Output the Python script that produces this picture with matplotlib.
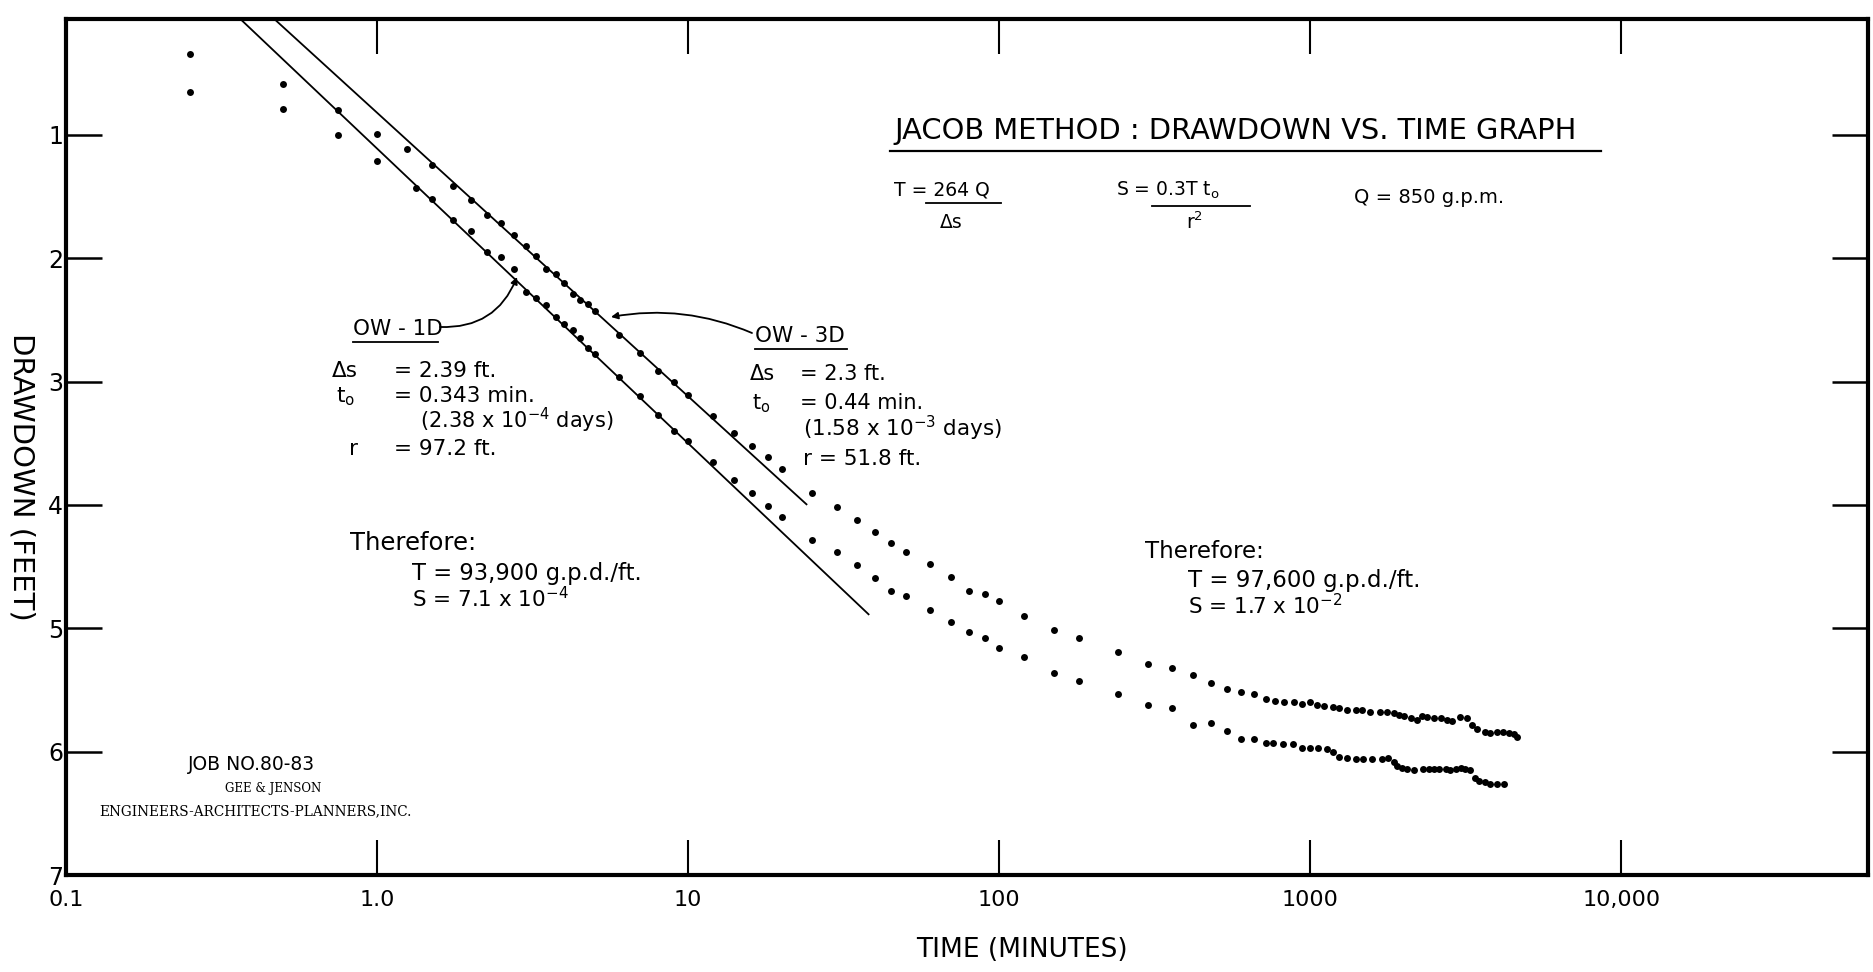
import numpy as np
import matplotlib
matplotlib.use("Agg")
import matplotlib.pyplot as plt
from matplotlib.lines import Line2D
from matplotlib.ticker import NullLocator

plt.rcParams['font.family'] = ['DejaVu Sans']
plt.rcParams['mathtext.fontset'] = 'dejavusans'

# ---------------- data ----------------
ow3d_time = [0.25, 0.5, 0.75, 1.0, 1.25, 1.5, 1.75, 2.0, 2.25, 2.5, 2.75, 3.0, 3.25, 3.5, 3.75,
             4.0, 4.25, 4.5, 4.75, 5.0, 6, 7, 8, 9, 10, 12, 14, 16, 18, 20, 25, 30, 35, 40, 45, 50,
             60, 70, 80, 90, 100, 120, 150, 180, 240, 300, 360, 420, 480, 540, 600, 660, 720,
             770, 825, 885, 940, 995, 1050, 1110, 1180, 1240, 1310, 1400, 1470, 1560,
             1680, 1760, 1850, 1920, 2000, 2100, 2200, 2290, 2370, 2490, 2620, 2750, 2850,
             3020, 3190, 3310, 3440, 3650, 3790, 3990, 4170, 4340, 4510, 4620]
ow3d_drawdown = [0.34, 0.59, 0.80, 0.99, 1.11, 1.24, 1.41, 1.53, 1.65, 1.71, 1.81, 1.90, 1.98, 2.09, 2.13,
                 2.20, 2.29, 2.34, 2.37, 2.43, 2.62, 2.77, 2.91, 3.00, 3.11, 3.28, 3.42, 3.52, 3.61, 3.71,
                 3.90, 4.02, 4.12, 4.22, 4.31, 4.38, 4.48, 4.58, 4.70, 4.72, 4.78, 4.90, 5.01, 5.08,
                 5.19, 5.29, 5.32, 5.38, 5.44, 5.49, 5.52, 5.53, 5.57,
                 5.59, 5.60, 5.60, 5.61, 5.60, 5.62, 5.63, 5.64, 5.65, 5.66, 5.66, 5.66, 5.68,
                 5.68, 5.68, 5.69, 5.70, 5.71, 5.73, 5.74, 5.71, 5.72, 5.73, 5.73, 5.74, 5.75,
                 5.72, 5.73, 5.78, 5.82, 5.84, 5.85, 5.84, 5.84, 5.85, 5.86, 5.88]

ow1d_time = [0.25, 0.5, 0.75, 1.0, 1.33, 1.5, 1.75, 2.0, 2.25, 2.5, 2.75, 3.0, 3.25, 3.5, 3.75,
             4.0, 4.25, 4.5, 4.75, 5.0, 6, 7, 8, 9, 10, 12, 14, 16, 18, 20, 25, 30, 35, 40, 45, 50,
             60, 70, 80, 90, 100, 120, 150, 180, 240, 300, 360, 420, 480, 540, 600, 660, 720,
             760, 815, 880, 940, 995, 1060, 1130, 1180, 1240, 1310, 1400, 1480, 1580,
             1700, 1770, 1850, 1900, 1970, 2050, 2150, 2300, 2400, 2490, 2590, 2720, 2820,
             2930, 3040, 3150, 3270, 3390, 3480, 3630, 3790, 3990, 4180]
ow1d_drawdown = [0.65, 0.79, 1.00, 1.21, 1.43, 1.52, 1.69, 1.78, 1.95, 1.99, 2.09, 2.27, 2.32, 2.38, 2.48,
                 2.53, 2.58, 2.65, 2.73, 2.78, 2.96, 3.12, 3.27, 3.40, 3.48, 3.65, 3.80, 3.90, 4.01, 4.10,
                 4.28, 4.38, 4.49, 4.59, 4.70, 4.74, 4.85, 4.95, 5.03, 5.08, 5.16, 5.23, 5.36, 5.43,
                 5.53, 5.62, 5.65, 5.78, 5.77, 5.83, 5.90, 5.90, 5.93,
                 5.93, 5.94, 5.94, 5.97, 5.97, 5.97, 5.98, 6.00, 6.04, 6.05, 6.06, 6.06, 6.06,
                 6.06, 6.05, 6.08, 6.12, 6.13, 6.14, 6.15, 6.14, 6.14, 6.14, 6.14, 6.14, 6.15,
                 6.14, 6.13, 6.14, 6.15, 6.21, 6.24, 6.25, 6.26, 6.26, 6.26]

# Jacob straight-line fits: drawdown per log cycle, zero-drawdown time, last time drawn
ow1d_fit_ds, ow1d_fit_t0, ow1d_fit_tend = 2.39, 0.343, 38.0
ow3d_fit_ds, ow3d_fit_t0, ow3d_fit_tend = 2.3, 0.44, 24.0

x_ticks = [0.1, 1, 10, 100, 1000, 10000]
x_tick_labels = ["0.1", "1.0", "10", "100", "1000", "10,000"]
y_ticks = [1, 2, 3, 4, 5, 6, 7]
y_tick_labels = ["1", "2", "3", "4", "5", "6", "7"]

# ---------------- figure ----------------
W, H = 1874, 972
fig = plt.figure(figsize=(W / 100, H / 100), dpi=100)
fig.patch.set_facecolor('white')

ax_l, ax_r, ax_t, ax_b = 66, 1868, 19, 875
ax = fig.add_axes([ax_l / W, 1 - ax_b / H, (ax_r - ax_l) / W, (ax_b - ax_t) / H])
ax.set_xscale('log')
ax.set_xlim(0.1, 6.2e4)
ax.set_ylim(7, 0.06)

for sp in ax.spines.values():
    sp.set_linewidth(3.0)
    sp.set_color('black')

ax.set_xticks(x_ticks)
ax.set_xticklabels(x_tick_labels)
ax.xaxis.set_minor_locator(NullLocator())
ax.set_yticks(y_ticks)
ax.set_yticklabels(y_tick_labels)
ax.tick_params(axis='x', which='both', direction='in', length=25, width=1.5,
               top=True, bottom=True, labelsize=16, pad=11)
ax.tick_params(axis='y', which='both', direction='in', length=26, width=1.8,
               left=True, right=True, labelsize=17, pad=2)

# fitted lines
for ds, t0, tend in [(ow1d_fit_ds, ow1d_fit_t0, ow1d_fit_tend),
                     (ow3d_fit_ds, ow3d_fit_t0, ow3d_fit_tend)]:
    tt = np.geomspace(t0, tend, 60)
    ax.plot(tt, ds * np.log10(tt / t0), color='black', lw=1.3)

# data points
ax.plot(ow3d_time, ow3d_drawdown, 'o', color='black', markersize=5, markeredgewidth=0)
ax.plot(ow1d_time, ow1d_drawdown, 'o', color='black', markersize=5, markeredgewidth=0)


# ---------------- annotations ----------------
def px(x, y):
    return (x / W, 1 - y / H)


def label(x, y, s, size, **kw):
    kw.setdefault('ha', 'left')
    kw.setdefault('va', 'baseline')
    fig.text(*px(x, y), s, fontsize=size, **kw)


def rule(x1, x2, y, lw=1.3):
    fig.add_artist(Line2D([x1 / W, x2 / W], [1 - y / H, 1 - y / H],
                          transform=fig.transFigure, color='black', lw=lw))


# title
label(894, 139, "JACOB METHOD : DRAWDOWN VS. TIME GRAPH", 20.8)
rule(890, 1601, 151, lw=1.6)

# formulas
label(894, 196, "T = 264 Q", 13.5)
rule(926, 1001, 203)
label(940, 228, "Δs", 13.5)
label(1116, 196, r"S = 0.3T t$_\mathregular{o}$", 13.5)
rule(1152, 1250, 206)
label(1186, 229, r"r$^\mathregular{2}$", 13.5)
label(1354, 203, "Q = 850 g.p.m.", 14)

# OW-1D block
label(353, 335, "OW - 1D", 15.5)
rule(353, 438, 342)
label(332, 377, "Δs", 15.5)
label(394, 377, "= 2.39 ft.", 15.5)
label(336, 402, r"t$_\mathregular{o}$", 15.5)
label(394, 402, "= 0.343 min.", 15.5)
label(420, 428, r"(2.38 x 10$^\mathregular{-4}$ days)", 15)
label(349, 455, "r", 15.5)
label(394, 455, "= 97.2 ft.", 15.5)
label(350, 550, "Therefore:", 17.5)
label(412, 580, "T = 93,900 g.p.d./ft.", 16.3)
label(412, 607, r"S = 7.1 x 10$^\mathregular{-4}$", 15.5)

# OW-3D block
label(755, 342, "OW - 3D", 15.5)
rule(755, 847, 349)
label(750, 380, "Δs", 15)
label(800, 380, "= 2.3 ft.", 15)
label(752, 409, r"t$_\mathregular{o}$", 15)
label(800, 409, "= 0.44 min.", 15)
label(803, 436, r"(1.58 x 10$^\mathregular{-3}$ days)", 15.5)
label(803, 465, "r = 51.8 ft.", 15.5)
label(1145, 558, "Therefore:", 16.5)
label(1188, 587, "T = 97,600 g.p.d./ft.", 16.5)
label(1188, 614, r"S = 1.7 x 10$^\mathregular{-2}$", 15.5)

# leaders
ax.annotate("", xy=(517, H - 277), xycoords='figure pixels',
            xytext=(440, H - 327), textcoords='figure pixels',
            arrowprops=dict(arrowstyle='-|>', mutation_scale=10, lw=1.3, color='black',
                            connectionstyle='arc3,rad=0.35', shrinkA=0, shrinkB=0))
ax.annotate("", xy=(611, H - 317), xycoords='figure pixels',
            xytext=(752, H - 333), textcoords='figure pixels',
            arrowprops=dict(arrowstyle='-|>', mutation_scale=10, lw=1.3, color='black',
                            connectionstyle='arc3,rad=0.15', shrinkA=0, shrinkB=0))

# job block
label(188, 770, "JOB NO.80-83", 13.5)
label(273, 792, "GEE & JENSON", 8.5, ha='center', family=['DejaVu Serif'])
label(99, 815, "ENGINEERS-ARCHITECTS-PLANNERS,INC.", 9.8, family=['DejaVu Serif'])

# axis titles
fig.text(*px(1022, 950), "TIME (MINUTES)", fontsize=19, ha='center', va='center')
fig.text(*px(21, 477), "DRAWDOWN (FEET)", fontsize=21, ha='center', va='center', rotation=270)

fig.savefig("out.png", dpi=100, facecolor='white')
